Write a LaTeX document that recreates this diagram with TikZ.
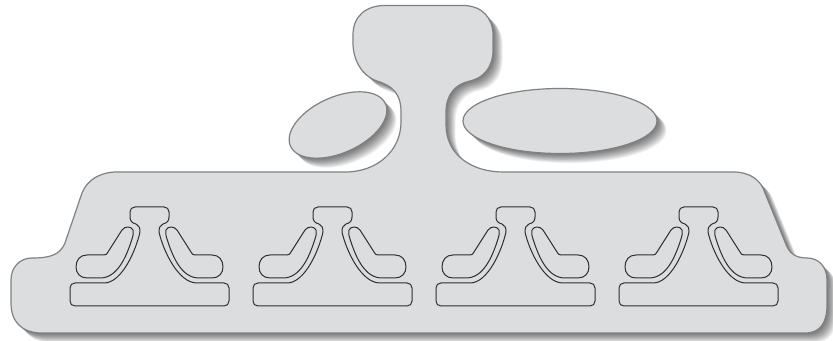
\documentclass[tikz,border=0pt]{standalone}
\usepackage{tikz}
\usetikzlibrary{calc}
\definecolor{panelGray}{HTML}{DCDDDF}
\definecolor{edgeGray}{HTML}{808183}
\definecolor{seatLine}{HTML}{2E2E30}
\def\unitGap{183}
\def\bodyPath{
  (117,172) -- (345,172)
  .. controls (378,172) and (401,150) .. (401,122) -- (401,112)
  .. controls (401,94) and (393,86) .. (377,81)
  .. controls (362,76) and (353,60) .. (353,43) -- (353,35)
  .. controls (353,16) and (366,5.5) .. (385,5.5) -- (463,5.5)
  .. controls (482,5.5) and (493,18) .. (493,35) -- (493,50)
  .. controls (493,68) and (483,78) .. (470,81)
  .. controls (455,84) and (446,95) .. (446,112) -- (446,125)
  .. controls (446,155) and (472,172) .. (503,172)
  -- (733,172)
  .. controls (750,172) and (761,180) .. (765,193)
  -- (785,242)
  .. controls (789,254) and (796,258) .. (807,258)
  .. controls (819,258) and (827,267) .. (827,280)
  -- (827,305)
  .. controls (827,323) and (820,333) .. (805,333)
  -- (42,333)
  .. controls (22,333) and (11,322) .. (11,303)
  -- (11,280)
  .. controls (11,267) and (20,258) .. (32,258)
  .. controls (50,258) and (60,255) .. (65,243)
  -- (82,193)
  .. controls (87,180) and (100,172) .. (117,172) -- cycle
}
\def\rightOvalPath{(560,121) ellipse [x radius=97, y radius=32.5]}
\def\leftOvalPath{[rotate around={24:(338,125)}] (338,125) ellipse [x radius=52, y radius=28]}
\def\softShadow#1{
  \foreach \k in {1,...,12}{
    \fill[black, fill opacity=0.055, shift={(0.8*\k,0.8*\k)}] #1;
  }
}
\tikzset{
  part/.style={fill=panelGray, draw=edgeGray, line width=0.9pt, line join=round},
  seat/.style={draw=seatLine, line width=0.75pt, line join=round}
}
\begin{document}
\begin{tikzpicture}[x=0.75pt, y=-0.75pt]
  \useasboundingbox (0,0) rectangle (833,341);
  \fill[white] (0,0) rectangle (833,341);

  % shadows first
  \begin{scope}
    \clip (0,0) rectangle (833,341);
    \softShadow{\bodyPath}
    \softShadow{\rightOvalPath}
    \softShadow{\leftOvalPath}
  \end{scope}

  \path[part] \bodyPath;
  \path[part] \rightOvalPath;
  \path[part] \leftOvalPath;

  % the four seats
  \foreach \unit in {0,1,2,3}{
    \begin{scope}[shift={(\unit*\unitGap,0)}]
      % pedestal with head
      \path[seat]
        (135,207) -- (164,207)
        .. controls (167,207) and (169,209) .. (169,212) -- (169,217)
        .. controls (169,221) and (167,223) .. (163,224)
        .. controls (160,225) and (159,228) .. (159,232)
        .. controls (163,250) and (178,283) .. (197,283)
        -- (224,283)
        .. controls (227,283) and (229,285) .. (229,288) -- (229,301)
        .. controls (229,304) and (227,306) .. (224,306) -- (75,306)
        .. controls (72,306) and (70,304) .. (70,301) -- (70,288)
        .. controls (70,285) and (72,283) .. (75,283)
        -- (104,283)
        .. controls (122,283) and (136,250) .. (140,232)
        .. controls (140,228) and (139,225) .. (136,224)
        .. controls (132,223) and (130,221) .. (130,217) -- (130,212)
        .. controls (130,209) and (132,207) .. (135,207) -- cycle;
      % left pad
      \path[seat]
        (87,255) -- (104,255)
        .. controls (106,255) and (107,254) .. (108,252) -- (122,230)
        .. controls (125,226) and (131,226) .. (133,230)
        .. controls (134,233) and (133,236) .. (132,239)
        .. controls (126,258) and (117,278) .. (100,278)
        -- (87,278)
        .. controls (80,278) and (76,273) .. (76,267)
        .. controls (76,260) and (80,255) .. (87,255) -- cycle;
      % right pad
      \path[seat]
        (212,255) -- (195,255)
        .. controls (193,255) and (192,254) .. (191,252) -- (177,230)
        .. controls (174,226) and (168,226) .. (166,230)
        .. controls (165,233) and (166,236) .. (167,239)
        .. controls (173,258) and (182,278) .. (199,278)
        -- (212,278)
        .. controls (219,278) and (223,273) .. (223,267)
        .. controls (223,260) and (219,255) .. (212,255) -- cycle;
    \end{scope}
  }
\end{tikzpicture}
\end{document}
